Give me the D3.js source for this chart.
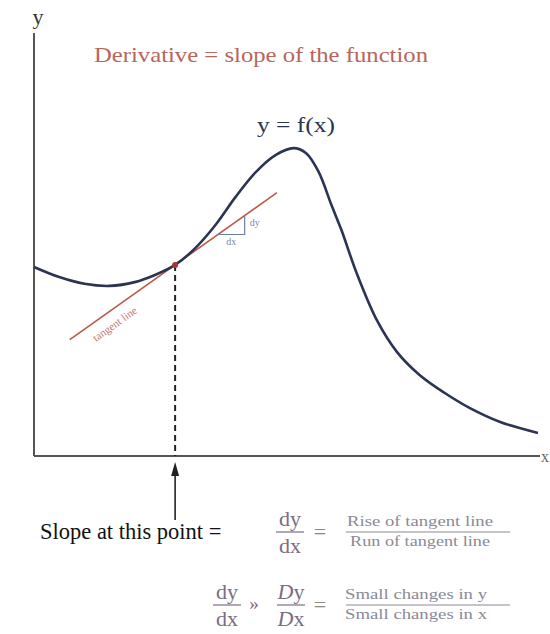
<!DOCTYPE html>
<html><head><meta charset="utf-8">
<script src="https://cdn.jsdelivr.net/npm/d3@7"></script>
<style>body{margin:0;background:#fff}svg{display:block}</style>
</head><body>
<svg id="c" width="550" height="634"></svg>
<script>
// curve y = f(x), in abstract units (x: 0..10, y: 0..10)
const curveX = [0, 0.5, 1, 1.5, 2, 2.4, 2.8, 3.2, 3.6, 4, 4.4, 4.8, 5.15, 5.4, 5.65, 5.9, 6.1, 6.4, 6.8, 7.2, 7.65, 8.15, 8.65, 9.25, 10];
const curveY = [4.5, 4.26, 4.1, 4.05, 4.14, 4.31, 4.55, 4.95, 5.5, 6.17, 6.76, 7.17, 7.33, 7.21, 6.76, 5.98, 5.38, 4.36, 3.24, 2.48, 1.93, 1.5, 1.14, 0.81, 0.55];
// tangent point and tangent line extent
const tangentPoint = [2.8, 4.55];
const tangentX = [0.71, 4.82];
const triangleX = [3.65, 4.18];
const labels = {
  title: "Derivative = slope of the function",
  fx: "y = f(x)",
  yAxis: "y", xAxis: "x",
  slope: "Slope at this point =",
  rise: "Rise of tangent line", run: "Run of tangent line",
  smallY: "Small changes in y", smallX: "Small changes in x"
};

const svg = d3.select("#c");
const x = d3.scaleLinear().domain([0, 10]).range([34, 538]);
const y = d3.scaleLinear().domain([0, 10]).range([456, 36]);
// slope in data units, derived from picture (pixel slope -0.71)
const m = 0.71 * (x(1) - x(0)) / (y(0) - y(1));
const tl = xv => tangentPoint[1] + m * (xv - tangentPoint[0]);

const serif = "'Liberation Serif', 'DejaVu Serif', serif";

// axes
svg.append("line").attr("x1", x(0)).attr("x2", x(0)).attr("y1", y(10) - 3).attr("y2", y(0))
  .attr("stroke", "#555").attr("stroke-width", 2);
svg.append("line").attr("x1", x(0)).attr("x2", x(10) + 2).attr("y1", y(0)).attr("y2", y(0))
  .attr("stroke", "#555").attr("stroke-width", 2);
svg.append("text").attr("x", 38).attr("y", 24).attr("text-anchor", "middle")
  .attr("font-family", serif).attr("font-size", 22).attr("fill", "#333").text(labels.yAxis);
svg.append("text").attr("x", 541).attr("y", 462)
  .attr("font-family", serif).attr("font-size", 16).attr("fill", "#666").text(labels.xAxis);

// title
svg.append("text").attr("x", 261).attr("y", 62).attr("text-anchor", "middle")
  .attr("font-family", serif).attr("font-size", 22).attr("fill", "#b8665a")
  .attr("textLength", 334).attr("lengthAdjust", "spacingAndGlyphs").text(labels.title);
svg.append("text").attr("x", 296).attr("y", 132).attr("text-anchor", "middle")
  .attr("font-family", serif).attr("font-size", 22).attr("fill", "#2b3553")
  .attr("textLength", 78).attr("lengthAdjust", "spacingAndGlyphs").text(labels.fx);

// tangent line
svg.append("line")
  .attr("x1", x(tangentX[0])).attr("y1", y(tl(tangentX[0])))
  .attr("x2", x(tangentX[1])).attr("y2", y(tl(tangentX[1])))
  .attr("stroke", "#c0584a").attr("stroke-width", 1.6);

// tangent line label
const lx = 117, ly = 327;
svg.append("text").attr("transform", `translate(${lx},${ly}) rotate(-35.4)`)
  .attr("text-anchor", "middle").attr("font-family", serif).attr("font-size", 11)
  .attr("fill", "#c07a6e").text("tangent line");

// small triangle
svg.append("path")
  .attr("d", `M${x(triangleX[0])},${y(tl(triangleX[0]))} H${x(triangleX[1])} V${y(tl(triangleX[1]))}`)
  .attr("fill", "none").attr("stroke", "#6f7fa3").attr("stroke-width", 1.2);
svg.append("text").attr("x", x(triangleX[1]) + 5).attr("y", y(tl(triangleX[1])) + 10)
  .attr("font-family", serif).attr("font-size", 10).attr("fill", "#7a86a6").text("dy");
svg.append("text").attr("x", (x(triangleX[0]) + x(triangleX[1])) / 2).attr("y", y(tl(triangleX[0])) + 11)
  .attr("text-anchor", "middle").attr("font-family", serif).attr("font-size", 10).attr("fill", "#7a86a6").text("dx");

// dashed vertical
svg.append("line").attr("x1", x(tangentPoint[0])).attr("x2", x(tangentPoint[0]))
  .attr("y1", y(tangentPoint[1])).attr("y2", y(0))
  .attr("stroke", "#222").attr("stroke-width", 2).attr("stroke-dasharray", "6,4");

// curve
const pts = curveX.map((v, i) => [v, curveY[i]]);
svg.append("path").datum(pts)
  .attr("d", d3.line().x(d => x(d[0])).y(d => y(d[1])).curve(d3.curveCatmullRom.alpha(0.5)))
  .attr("fill", "none").attr("stroke", "#2b3553").attr("stroke-width", 2.6);

svg.append("circle").attr("cx", x(tangentPoint[0])).attr("cy", y(tangentPoint[1])).attr("r", 3)
  .attr("fill", "#a03a36");

// arrow
const ax = x(tangentPoint[0]);
svg.append("line").attr("x1", ax).attr("x2", ax).attr("y1", 520).attr("y2", 472)
  .attr("stroke", "#222").attr("stroke-width", 1.6);
svg.append("path").attr("d", `M${ax},462 L${ax - 4},476 L${ax + 4},476 Z`).attr("fill", "#222");

// formulas
svg.append("text").attr("x", 40).attr("y", 539).attr("font-family", serif).attr("font-size", 22.5)
  .attr("fill", "#111").text(labels.slope);

const fracCol = "#7b6c86";
function frac(cx, yb, top, bot, w, size, col, len, tcx) {
  const tx = tcx === undefined ? cx : tcx;
  const a = svg.append("text").attr("x", tx).attr("y", yb - 6).attr("text-anchor", "middle")
    .attr("font-family", serif).attr("font-size", size).attr("fill", col)
    .text(top);
  svg.append("line").attr("x1", cx - w / 2).attr("x2", cx + w / 2).attr("y1", yb).attr("y2", yb)
    .attr("stroke", col).attr("stroke-width", 1.2);
  const b = svg.append("text").attr("x", tx).attr("y", yb + size * 0.95).attr("text-anchor", "middle")
    .attr("font-family", serif).attr("font-size", size).attr("fill", col)
    .text(bot);
  if (len) {
    a.attr("textLength", len[0]).attr("lengthAdjust", "spacingAndGlyphs");
    b.attr("textLength", len[1]).attr("lengthAdjust", "spacingAndGlyphs");
  }
}
frac(290, 532, "dy", "dx", 28, 22, fracCol);
svg.append("text").attr("x", 320).attr("y", 539).attr("text-anchor", "middle")
  .attr("font-family", serif).attr("font-size", 22).attr("fill", "#888").text("=");
frac(428, 532, labels.rise, labels.run, 164, 15, "#8a8a95", [146, 140], 420);

frac(227, 605, "dy", "dx", 28, 22, fracCol);
svg.append("text").attr("x", 254).attr("y", 610).attr("text-anchor", "middle")
  .attr("font-family", serif).attr("font-size", 19).attr("fill", "#7b6c86").text("»");
// Dy / Dx with italic D
(function () {
  const cx = 291, yb = 605, col = fracCol;
  const t1 = svg.append("text").attr("x", cx).attr("y", yb - 6).attr("text-anchor", "middle")
    .attr("font-family", serif).attr("font-size", 22).attr("fill", col);
  t1.append("tspan").attr("font-style", "italic").text("D"); t1.append("tspan").text("y");
  svg.append("line").attr("x1", cx - 14).attr("x2", cx + 14).attr("y1", yb).attr("y2", yb)
    .attr("stroke", col).attr("stroke-width", 1.2);
  const t2 = svg.append("text").attr("x", cx).attr("y", yb + 21).attr("text-anchor", "middle")
    .attr("font-family", serif).attr("font-size", 22).attr("fill", col);
  t2.append("tspan").attr("font-style", "italic").text("D"); t2.append("tspan").text("x");
})();
svg.append("text").attr("x", 320).attr("y", 612).attr("text-anchor", "middle")
  .attr("font-family", serif).attr("font-size", 22).attr("fill", "#888").text("=");
frac(428, 605, labels.smallY, labels.smallX, 164, 15, "#8a8a95", [142, 142], 416);
</script>
</body></html>
